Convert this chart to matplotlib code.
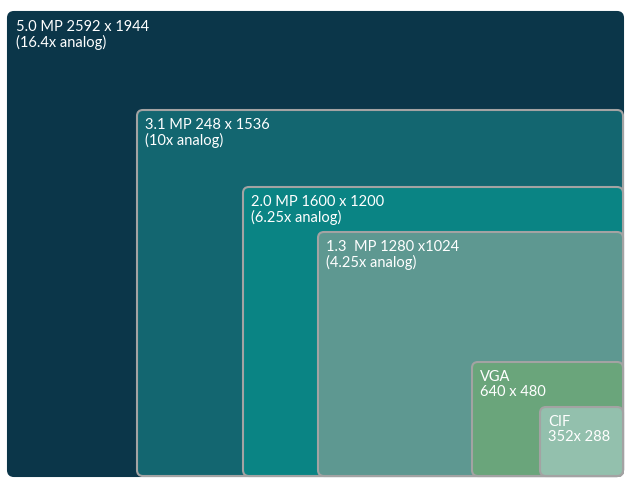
import matplotlib.pyplot as plt
from matplotlib.patches import FancyBboxPatch

# nested boxes, all anchored at the bottom right corner
labels = ["5.0 MP 2592 x 1944\n(16.4x analog)",
          "3.1 MP 248 x 1536\n(10x analog)",
          "2.0 MP 1600 x 1200\n(6.25x analog)",
          "1.3  MP 1280 x1024\n(4.25x analog)",
          "VGA\n640 x 480",
          "CIF\n352x 288"]
box_w = [615, 486, 380, 305, 151, 83]
box_h = [464, 366, 289, 244, 114, 69]
colors = ["#0b3649", "#136670", "#0a8484", "#5e9891", "#6aa57b", "#93c0ad"]

right, bottom = 623, 477

fig = plt.figure(figsize=(6.26, 4.89), dpi=100)
ax = fig.add_axes([0, 0, 1, 1])
ax.set_xlim(0, 626)
ax.set_ylim(489, 0)
ax.axis("off")

for i, (lab, w, h, c) in enumerate(zip(labels, box_w, box_h, colors)):
    x0 = right - w
    y0 = bottom - h
    ec = c if i == 0 else "#a3a3a3"
    p = FancyBboxPatch((x0, y0), w, h, boxstyle="round,pad=0,rounding_size=6",
                       fc=c, ec=ec, lw=1.5, zorder=i)
    ax.add_patch(p)
    ax.text(x0 + 8, y0 + 7, lab, color="white", fontsize=10.5, family="Lato",
            va="top", ha="left", linespacing=1.1, zorder=i)

fig.savefig("out.png", dpi=100)
